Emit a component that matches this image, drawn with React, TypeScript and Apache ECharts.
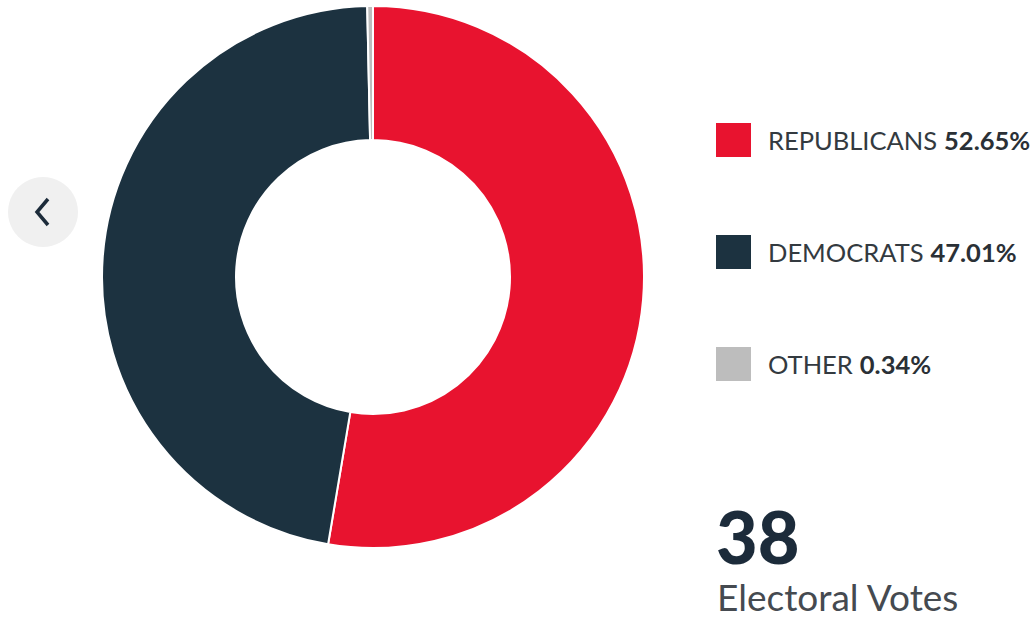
import React, { useEffect, useRef } from "react";
import * as echarts from "echarts";

const parties = ["REPUBLICANS", "DEMOCRATS", "OTHER"];
const shares = [52.65, 47.01, 0.34];
const colors = ["#e8132f", "#1c3240", "#bdbdbd"];
const electoralVotes = 38;
const votesLabel = "Electoral Votes";

export default function App() {
  const ref = useRef<HTMLDivElement>(null);
  useEffect(() => {
    if (!ref.current) return;
    const chart = echarts.init(ref.current, null, { renderer: "svg" });
    const data = parties.map((p, i) => ({ name: p, value: shares[i], itemStyle: { color: colors[i] } }));
    chart.setOption({
      animation: false,
      backgroundColor: "#ffffff",
      legend: {
        orient: "vertical",
        left: 714,
        top: 121,
        padding: 0,
        itemWidth: 37,
        itemHeight: 36,
        itemGap: 74,
        icon: "rect",
        selectedMode: false,
        data: parties,
        formatter: (name: string) => {
          const i = parties.indexOf(name);
          return `{a|${name}}{s| }{b|${shares[i].toFixed(2)}%}`;
        },
        textStyle: {
          padding: [0, 0, 0, 11],
          rich: {
            a: { fontFamily: "Lato", fontSize: 25.5, color: "#333a40", lineHeight: 36 },
            s: { fontFamily: "Lato", fontSize: 25.5, width: 7, lineHeight: 36 },
            b: { fontFamily: "Lato", fontSize: 25.5, fontWeight: "bold", color: "#2a3036", lineHeight: 36 },
          },
        },
      },
      series: [
        {
          type: "pie",
          center: [373, 277],
          radius: [137, 271],
          startAngle: 90,
          clockwise: true,
          label: { show: false },
          labelLine: { show: false },
          emphasis: { disabled: true },
          itemStyle: { borderColor: "#ffffff", borderWidth: 2 },
          data,
        },
      ],
      graphic: [
        { type: "circle", shape: { cx: 43, cy: 212, r: 35 }, style: { fill: "#f0f0f0" } },
        {
          type: "polyline",
          shape: { points: [[48, 199], [37, 212], [48, 225]] },
          style: { stroke: "#1c2b3a", lineWidth: 3.5, fill: "none" },
        },
        {
          type: "text",
          left: 716,
          top: 500,
          style: {
            text: String(electoralVotes),
            font: "900 72px Lato",
            fill: "#1c2b3a",
          },
        },
        {
          type: "text",
          left: 717,
          top: 578,
          style: {
            text: votesLabel,
            font: "37px Lato",
            fill: "#454a50",
          },
        },
      ],
    });
    return () => chart.dispose();
  }, []);
  return <div ref={ref} style={{ position: "absolute", left: 0, top: 0, width: 1035, height: 621 }} />;
}
